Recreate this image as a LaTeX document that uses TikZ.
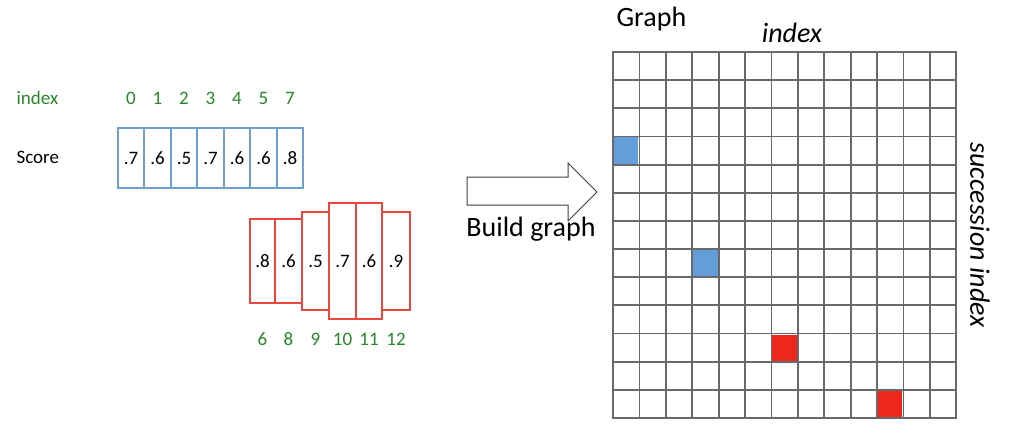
\documentclass[tikz,border=0pt]{standalone}
\usepackage{fontspec}
\setmainfont{Carlito}
\definecolor{idxgreen}{RGB}{40,135,40}
\definecolor{bline}{RGB}{110,160,210}
\definecolor{bfill}{RGB}{100,158,218}
\definecolor{rline}{RGB}{238,70,60}
\definecolor{rfill}{RGB}{238,38,28}
\definecolor{gline}{RGB}{105,105,105}
\tikzset{
  small/.style={font=\fontsize{19}{21}\selectfont},
  big/.style={font=\fontsize{28}{32}\selectfont},
  idx/.style={small,text=idxgreen},
  bbox/.style={draw=bline,line width=1.6pt,minimum width=26.5pt,minimum height=60pt,inner sep=0pt,small},
  rbox/.style={draw=rline,line width=1.6pt,inner sep=0pt,small},
  cell/.style={draw=gline,line width=1.8pt},
  bigarrow/.style={draw=black!75,line width=1pt,fill=white,line join=miter},
}
\begin{document}
\begin{tikzpicture}[x=1pt,y=-1pt]
\useasboundingbox (0,0) rectangle (1010,437);
% left labels
\node[idx,anchor=west] (lidx) at (13,98) {index};
\node[small,anchor=west] (lscore) at (13,157) {Score};
% blue boxes
\foreach \v/\i [count=\k from 0] in {.7/0,.6/1,.5/2,.7/3,.6/4,.6/5,.8/7}{
  \node[bbox] (b\k) at ({131+26.5*\k},158) {\v};
  \node[idx] (bi\k) at ({131+26.5*\k},98) {\i};
}
% red boxes
\foreach \xa/\xb/\ya/\yb/\v/\i [count=\k] in {
  250/275/219/303/.8/6, 275/302/219/303/.6/8, 302/329/212/310/.5/9,
  329/356/203/319/.7/10, 356/382/203/319/.6/11, 382/410/212/310/.9/12}{
  \node[rbox,minimum width={(\xb-\xa)*1pt},minimum height={(\yb-\ya)*1pt}] (r\k) at ({(\xa+\xb)/2},{(\ya+\yb)/2}) {\v};
  \node[idx] (ri\k) at ({(\xa+\xb)/2},339) {\i};
}
% arrow
\coordinate (arrtail) at (467,190);
\coordinate (arrtip) at (597,192);
\draw[bigarrow] (467,177) -- (568,177) -- (568,163) -- (arrtip) -- (568,221) -- (568,205) -- (467,205) -- cycle;
\node[big] (bg) at (531,229) {Build graph};
% grid
\foreach \c in {0,...,12}{
  \foreach \r in {0,...,12}{
    \draw[cell] ({613+26.4*\c},{52+28.15*\r}) rectangle ++(26.4,28.15);
  }
}
\foreach \c/\r/\col in {0/3/bfill,3/7/bfill,6/10/rfill,10/12/rfill}{
  \fill[\col] ({613+26.4*\c+1},{52+28.15*\r+1}) rectangle ++(24.4,26.15);
}
\node[big,anchor=west] (gt) at (613,19) {Graph};
\node[big] (gi) at (792,33) {\itshape index};
\node[big,rotate=-90] (si) at (980,235) {\itshape succession index};
\end{tikzpicture}
\end{document}
